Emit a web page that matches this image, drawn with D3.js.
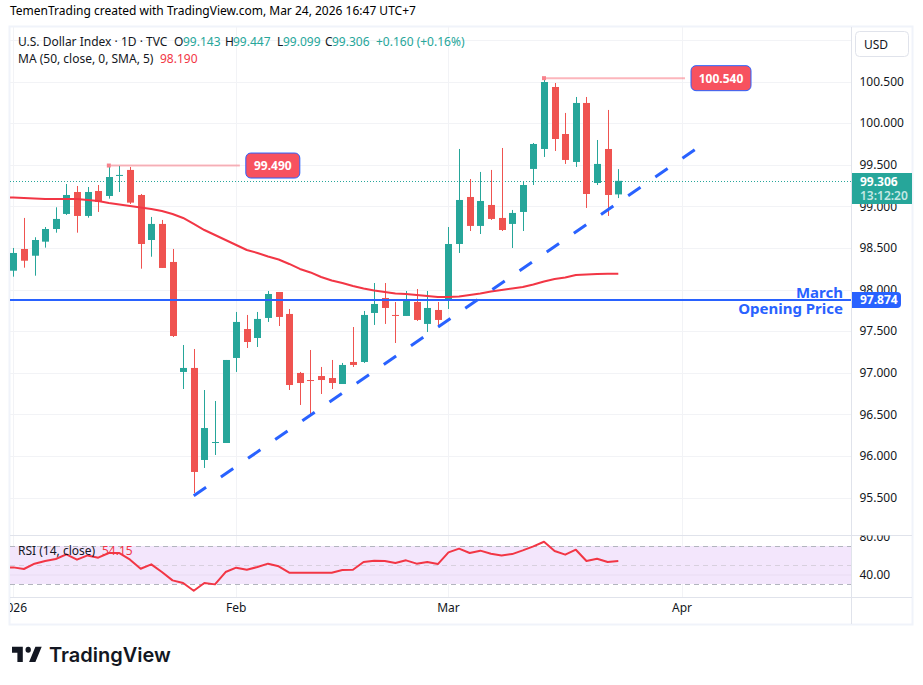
<!DOCTYPE html>
<html><head><meta charset="utf-8">
<script src="https://cdn.jsdelivr.net/npm/d3@7"></script>
<style>html,body{margin:0;padding:0;background:#fff}svg{display:block}text{font-family:"Noto Sans",sans-serif}</style>
</head><body>
<script>
const opens=[98.226,98.487,98.406,98.575,98.727,98.908,99.172,98.884,99.184,99.124,99.368,99.437,99.136,98.595,98.788,98.331,97.009,97.057,95.951,96.159,96.155,97.177,97.525,97.417,97.658,97.970,97.706,96.997,96.912,96.960,96.936,96.864,97.129,97.129,97.718,97.898,97.694,97.682,97.850,97.586,97.754,97.874,98.547,99.112,98.764,99.016,98.860,98.788,98.932,99.449,99.689,100.434,99.869,99.533,100.242,99.280,99.689,99.143];
const highs=[98.499,98.860,98.628,98.751,98.988,99.268,99.244,99.232,99.256,99.490,99.485,99.473,99.148,98.872,98.836,98.487,97.333,97.285,96.792,96.660,97.153,97.730,97.694,97.730,97.982,97.970,97.766,97.009,97.273,97.069,97.153,97.117,97.549,97.742,98.078,98.078,97.850,97.982,98.006,97.982,97.850,98.751,99.689,99.328,99.413,99.437,99.701,98.956,99.304,99.761,100.540,100.482,100.122,100.314,100.314,99.797,100.158,99.447];
const lows=[98.154,98.262,98.166,98.503,98.683,98.896,98.683,98.863,98.932,99.092,99.172,99.028,98.250,98.394,98.259,97.429,96.804,95.554,95.855,96.011,96.155,97.009,97.297,97.309,97.610,97.561,96.792,96.612,96.492,96.744,96.804,96.864,97.069,97.117,97.574,97.586,97.357,97.682,97.622,97.489,97.550,97.766,98.439,98.703,98.667,98.836,98.703,98.499,98.703,99.256,99.593,99.665,99.509,99.473,98.980,99.256,98.884,99.099];
const closes=[98.439,98.346,98.595,98.727,98.848,99.136,98.884,99.172,99.052,99.352,99.377,99.044,98.547,98.788,98.259,97.441,97.057,95.807,96.335,96.167,97.153,97.610,97.369,97.646,97.946,97.670,96.852,96.876,96.900,96.912,96.876,97.093,97.093,97.694,97.826,97.778,97.682,97.886,97.634,97.778,97.634,98.547,99.076,98.764,99.064,98.848,98.715,98.920,99.256,99.749,100.494,99.809,99.557,100.242,99.148,99.509,99.136,99.306];
// moving average, first value is the bar before the visible window
const maValues=[99.11,99.106,99.100,99.094,99.088,99.088,99.088,99.088,99.076,99.064,99.040,99.022,99.004,98.986,98.968,98.944,98.908,98.860,98.788,98.715,98.655,98.595,98.535,98.475,98.439,98.397,98.361,98.307,98.247,98.205,98.150,98.108,98.078,98.042,98.012,97.988,97.970,97.952,97.946,97.934,97.922,97.910,97.910,97.916,97.934,97.952,97.976,97.994,98.012,98.030,98.060,98.096,98.126,98.144,98.174,98.180,98.186,98.188,98.190];
const rsiValues=[47,47.5,45.8,51.4,54.2,56.3,61.2,55.6,60.1,57.7,62.6,62.6,55.6,46.1,50.7,42.6,33.8,31.0,22.9,31.0,29.6,42.6,47.2,45.0,47.9,51.4,48.6,41.9,41.9,41.9,41.9,41.9,44.7,45.0,53.1,54.5,54.2,52.1,54.9,51.4,53.1,51.0,63.3,67.2,62.6,65.1,61.9,60.1,61.5,65.4,69.6,74.5,64.7,60.9,66.1,54.2,56.6,53.1,54.15];
const priceTicks=[101,100.5,100,99.5,99,98.5,98,97.5,97,96.5,96,95.5];
const rsiTicks=[80,40];
const rsiBands=[70,50,30];
const timeLabels=["2026","Feb","Mar","Apr"];
const timeIndex=[0,21,41,63];
const trendIdx=[17,64.2];
const trendVal=[95.52,99.68];
const openingPrice=97.874, lastPrice=99.306;
const peakLabels=[{i:9,v:99.49,t:"99.490"},{i:50,v:100.54,t:"100.540"}];

const W=923,H=685,L=10,R=851.5,T=27,PB=535.5,RB=597.5,B=624;
const UP="#26a69a",DOWN="#ef5350",RED="#f23645",BLUE="#2962ff",GRID="#f2f3f6",EDGE="#e0e3eb",INK="#131722";
const svg=d3.select("body").append("svg").attr("width",W).attr("height",H);
const x=d3.scaleLinear().domain([0,57]).range([13.3,618.3]);
const y=d3.scaleLinear().domain([95.5,100.5]).range([497.5,81.5]);
const ry=d3.scaleLinear().domain([30,70]).range([584,546]);
const defs=svg.append("defs");
defs.append("clipPath").attr("id","main").append("rect").attr("x",L).attr("y",T).attr("width",R-L).attr("height",PB-T);
defs.append("clipPath").attr("id","rsi").append("rect").attr("x",L).attr("y",PB).attr("width",R-L).attr("height",RB-PB);
defs.append("clipPath").attr("id","rsiaxis").append("rect").attr("x",R).attr("y",PB).attr("width",W-R).attr("height",RB-PB);
defs.append("clipPath").attr("id","time").append("rect").attr("x",L).attr("y",RB).attr("width",R-L).attr("height",B-RB);

svg.append("text").attr("x",10).attr("y",15).attr("font-size",12).attr("fill","#000").text("TemenTrading created with TradingView.com, Mar 24, 2026 16:47 UTC+7");
svg.append("rect").attr("x",9.5).attr("y",26.5).attr("width",903).attr("height",598).attr("fill","#fff").attr("stroke","#f0f3fa").attr("stroke-width",2);

// grids
const gridG=svg.append("g");
gridG.selectAll(".h").data(priceTicks).join("line").attr("x1",L).attr("x2",R).attr("y1",d=>Math.round(y(d))+.5).attr("y2",d=>Math.round(y(d))+.5).attr("stroke",GRID);
gridG.selectAll(".v").data(timeIndex).join("line").attr("x1",d=>Math.round(x(d))+.5).attr("x2",d=>Math.round(x(d))+.5).attr("y1",T).attr("y2",RB).attr("stroke",GRID);

// RSI pane
const rp=svg.append("g").attr("clip-path","url(#rsi)");
rp.append("rect").attr("x",L).attr("width",R-L).attr("y",ry(70)).attr("height",ry(30)-ry(70)).attr("fill","#f3e6fc");
rp.append("line").attr("x1",L).attr("x2",R).attr("y1",ry(40)+.5).attr("y2",ry(40)+.5).attr("stroke","#e9dcf2");
rp.selectAll(".b").data(rsiBands).join("line").attr("x1",L).attr("x2",R).attr("y1",d=>Math.round(ry(d))+.5).attr("y2",d=>Math.round(ry(d))+.5).attr("stroke",d=>d===50?"#d8d0de":"#b2b5be").attr("stroke-dasharray","5 4");
rp.append("path").datum(rsiValues).attr("fill","none").attr("stroke",RED).attr("stroke-width",2).attr("stroke-linejoin","round")
  .attr("d",d3.line().x((d,i)=>x(i-1)).y(d=>ry(d)));

// main pane
const m=svg.append("g").attr("clip-path","url(#main)");
m.append("line").attr("x1",L).attr("x2",R).attr("y1",Math.round(y(lastPrice))+.5).attr("y2",Math.round(y(lastPrice))+.5).attr("stroke",UP).attr("stroke-dasharray","1 2");
const idx=d3.range(closes.length);
const col=i=>closes[i]>=opens[i]?UP:DOWN;
const cg=m.append("g");
cg.selectAll(".w").data(idx).join("line").attr("x1",i=>Math.round(x(i))+.5).attr("x2",i=>Math.round(x(i))+.5).attr("y1",i=>y(highs[i])).attr("y2",i=>y(lows[i])).attr("stroke",col);
cg.selectAll(".c").data(idx).join("rect").attr("x",i=>Math.round(x(i))-3).attr("width",7)
  .attr("y",i=>y(Math.max(opens[i],closes[i]))).attr("height",i=>Math.max(1,Math.abs(y(opens[i])-y(closes[i])))).attr("fill",col);
m.append("path").datum(maValues).attr("fill","none").attr("stroke",RED).attr("stroke-width",2).attr("stroke-linejoin","round")
  .attr("d",d3.line().x((d,i)=>x(i-1)).y(d=>y(d)));
m.append("line").attr("x1",L).attr("x2",R).attr("y1",y(openingPrice)).attr("y2",y(openingPrice)).attr("stroke",BLUE).attr("stroke-width",2);
m.append("line").attr("x1",x(trendIdx[0])).attr("y1",y(trendVal[0])).attr("x2",x(trendIdx[1])).attr("y2",y(trendVal[1])).attr("stroke",BLUE).attr("stroke-width",3).attr("stroke-dasharray","15 18");
m.append("text").attr("x",843).attr("y",298).attr("text-anchor","end").attr("font-size",15).attr("font-weight",700).attr("fill",BLUE).text("March");
m.append("text").attr("x",843).attr("y",314).attr("text-anchor","end").attr("font-size",15).attr("font-weight",700).attr("fill",BLUE).text("Opening Price");

// peak callouts
const offs=[{line:131,rx:137,rw:54},{line:141,rx:147,rw:60}];
peakLabels.forEach((p,k)=>{
  const px=x(p.i),py=y(p.v),o=offs[k];
  m.append("line").attr("x1",px+2).attr("x2",px+o.line).attr("y1",py).attr("y2",py).attr("stroke","rgba(247,82,95,.42)").attr("stroke-width",2);
  m.append("rect").attr("x",px-2).attr("y",py-2).attr("width",4).attr("height",4).attr("fill","#f7828c");
  m.append("rect").attr("x",px+o.rx).attr("y",py-12.5).attr("width",o.rw).attr("height",25).attr("rx",5).attr("fill","#f7525f").attr("stroke",BLUE);
  m.append("text").attr("x",px+o.rx+o.rw/2).attr("y",py+4.5).attr("text-anchor","middle").attr("font-size",12).attr("font-weight",700).attr("fill","#fff").text(p.t);
});

// frame lines
svg.append("line").attr("x1",R).attr("x2",R).attr("y1",T).attr("y2",B).attr("stroke",EDGE);
svg.append("line").attr("x1",L).attr("x2",912).attr("y1",PB).attr("y2",PB).attr("stroke",EDGE);
svg.append("line").attr("x1",L).attr("x2",912).attr("y1",RB).attr("y2",RB).attr("stroke",EDGE);

// price axis
const ax=svg.append("g").attr("transform",`translate(${R},0)`).call(d3.axisRight(y).tickValues(priceTicks.slice(1)).tickFormat(d3.format(".3f")).tickSize(0).tickPadding(8));
ax.select(".domain").remove();
ax.selectAll("text").attr("font-size",12).attr("fill",INK).style("font-family",'"Noto Sans",sans-serif');
const rax=svg.append("g").attr("clip-path","url(#rsiaxis)").append("g").attr("transform",`translate(${R},0)`).call(d3.axisRight(ry).tickValues(rsiTicks).tickFormat(d3.format(".2f")).tickSize(0).tickPadding(8));
rax.select(".domain").remove();
rax.selectAll("text").attr("font-size",12).attr("fill",INK).style("font-family",'"Noto Sans",sans-serif');

// time axis
svg.append("g").attr("clip-path","url(#time)").selectAll("text").data(timeLabels).join("text")
  .attr("x",(d,i)=>x(timeIndex[i])).attr("y",612).attr("text-anchor","middle").attr("font-size",12).attr("fill",INK).text(d=>d);

// price-scale badges
svg.append("rect").attr("x",852).attr("y",173).attr("width",60).attr("height",31).attr("fill",UP);
svg.append("text").attr("x",860).attr("y",186).attr("font-size",12).attr("font-weight",700).attr("fill","#fff").text(d3.format(".3f")(lastPrice));
svg.append("text").attr("x",860).attr("y",200).attr("font-size",12).attr("font-weight",600).attr("fill","#c4e8e4").text("13:12:20");
svg.append("path").attr("d","M852 292H897a4 4 0 0 1 4 4V304a4 4 0 0 1 -4 4H852Z").attr("fill",BLUE);
svg.append("text").attr("x",860).attr("y",304).attr("font-size",12).attr("font-weight",700).attr("fill","#fff").text(d3.format(".3f")(openingPrice));
svg.append("rect").attr("x",855.5).attr("y",31.5).attr("width",53).attr("height",25).attr("rx",4).attr("fill","#fff").attr("stroke",EDGE);
svg.append("text").attr("x",864).attr("y",49).attr("font-size",12).attr("fill",INK).text("USD");

// legends
const legend=(xp,yp,t,c)=>svg.append("text").attr("x",xp).attr("y",yp).attr("font-size",12).attr("fill",c).text(t);
legend(18,46,"U.S. Dollar Index · 1D · TVC",INK);
[["O",174,"99.143",183],["H",225,"99.447",233],["L",277,"99.099",283],["C",325,"99.306",332]].forEach(a=>{legend(a[1],46,a[0],INK);legend(a[3],46,a[2],UP);});
legend(376,46,"+0.160 (+0.16%)",UP);
legend(18,63,"MA (50, close, 0, SMA, 5)",INK);
legend(160,63,"98.190",RED);
legend(18,555,"RSI (14, close)",INK);
legend(102,555,"54.15",RED);

// brand
svg.append("path").attr("d","M14 6H2v6h6v9h6V6zm14 15h-7l7-15h7l-7 15zm-8-9a3 3 0 1 0 0-6 3 3 0 0 0 0 6z").attr("fill","#131722").attr("transform","translate(10.2,640.6) scale(.9,1.02)");
svg.append("text").attr("x",49).attr("y",662).attr("font-size",20).attr("font-weight",600).attr("fill","#131722").style("font-family","Inter,sans-serif").text("TradingView");
</script>
</body></html>
